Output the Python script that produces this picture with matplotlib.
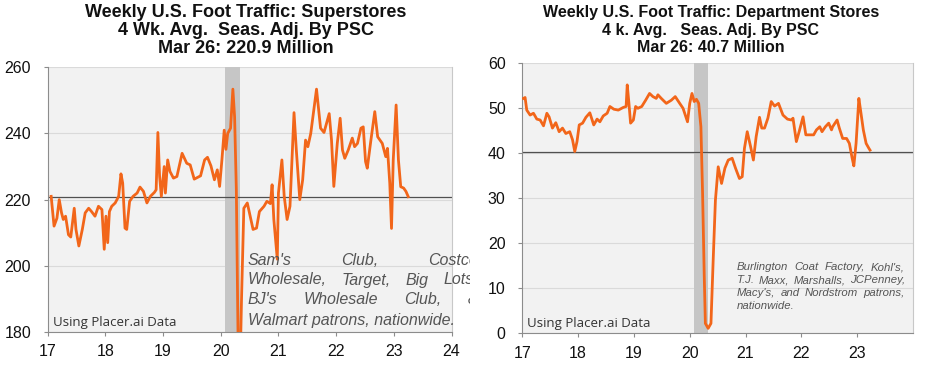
import matplotlib
matplotlib.use("Agg")
import matplotlib.pyplot as plt
from matplotlib.transforms import Bbox, TransformedBbox

# ---------------- data ----------------
super_x = [17.06, 17.11, 17.16, 17.20, 17.24, 17.27, 17.31, 17.36, 17.40, 17.46, 17.49, 17.54,
           17.60, 17.65, 17.71, 17.76, 17.82, 17.88, 17.94, 17.98, 18.01, 18.04, 18.07, 18.11,
           18.17, 18.23, 18.27, 18.30, 18.34, 18.37, 18.42, 18.48, 18.55, 18.60, 18.66, 18.72,
           18.78, 18.85, 18.88, 18.91, 18.94, 18.97, 19.02, 19.04, 19.08, 19.12, 19.18, 19.24,
           19.33, 19.41, 19.47, 19.54, 19.65, 19.72, 19.77, 19.83, 19.89, 19.94, 19.98, 20.02,
           20.06, 20.09, 20.12, 20.17, 20.21, 20.24, 20.27, 20.30, 20.33, 20.36, 20.40, 20.46,
           20.51, 20.56, 20.62, 20.67, 20.75, 20.80, 20.86, 20.89, 20.92, 20.98, 21.00, 21.06,
           21.10, 21.15, 21.20, 21.27, 21.31, 21.37, 21.42, 21.47, 21.51, 21.56, 21.66, 21.73,
           21.79, 21.88, 21.92, 21.96, 22.02, 22.07, 22.11, 22.15, 22.21, 22.28, 22.32, 22.37,
           22.43, 22.47, 22.51, 22.54, 22.60, 22.67, 22.72, 22.80, 22.86, 22.89, 22.93, 22.96,
           22.99, 23.04, 23.08, 23.12, 23.17, 23.21, 23.25]
super_y = [221.0, 212.0, 214.4, 220.0, 216.0, 214.0, 215.0, 209.4, 208.7, 217.4, 211.0, 206.0,
           211.0, 216.0, 217.4, 216.4, 215.0, 218.0, 217.0, 205.0, 215.0, 207.0, 216.4, 218.0,
           219.0, 221.0, 227.8, 225.0, 211.4, 211.0, 219.5, 221.0, 222.0, 223.8, 222.5, 219.0,
           221.0, 222.2, 223.0, 240.3, 227.0, 221.0, 230.0, 222.0, 232.0, 228.5, 226.5, 227.0,
           234.0, 231.0, 230.5, 226.2, 227.2, 232.0, 232.8, 230.2, 226.0, 229.0, 224.0, 232.0,
           241.0, 235.2, 240.0, 241.6, 253.4, 245.0, 223.0, 178.0, 165.0, 190.0, 217.4, 219.0,
           215.0, 211.0, 211.4, 216.4, 218.0, 219.5, 218.8, 224.5, 214.0, 202.0, 222.0, 232.0,
           221.0, 214.0, 218.0, 246.3, 235.0, 220.0, 226.0, 238.0, 236.0, 240.0, 253.4, 241.6,
           240.3, 246.0, 238.0, 224.0, 237.0, 244.6, 235.0, 232.5, 235.0, 238.6, 236.0, 237.0,
           241.6, 242.0, 231.5, 229.5, 237.6, 246.6, 239.0, 237.0, 233.0, 235.5, 225.0, 211.3,
           232.0, 248.6, 232.0, 223.9, 223.5, 222.5, 220.9]

dept_x = [17.02, 17.05, 17.08, 17.14, 17.20, 17.26, 17.32, 17.38, 17.44, 17.48, 17.54, 17.60,
          17.66, 17.72, 17.78, 17.85, 17.90, 17.94, 17.98, 18.02, 18.08, 18.14, 18.21, 18.28,
          18.34, 18.39, 18.45, 18.52, 18.57, 18.64, 18.72, 18.81, 18.86, 18.88, 18.91, 18.94,
          18.99, 19.03, 19.07, 19.14, 19.21, 19.28, 19.34, 19.40, 19.43, 19.49, 19.58, 19.67,
          19.74, 19.82, 19.88, 19.96, 20.00, 20.04, 20.08, 20.12, 20.16, 20.20, 20.23, 20.26,
          20.28, 20.33, 20.38, 20.42, 20.46, 20.51, 20.57, 20.63, 20.69, 20.76, 20.82, 20.89,
          20.94, 20.98, 21.03, 21.09, 21.14, 21.19, 21.25, 21.29, 21.34, 21.40, 21.46, 21.52,
          21.59, 21.67, 21.75, 21.82, 21.85, 21.91, 21.96, 22.03, 22.08, 22.13, 22.22, 22.27,
          22.33, 22.37, 22.43, 22.49, 22.54, 22.56, 22.64, 22.68, 22.74, 22.81, 22.86, 22.91,
          22.94, 22.98, 23.03, 23.06, 23.11, 23.16, 23.21, 23.23]
dept_y = [52.2, 52.4, 49.6, 48.5, 48.9, 47.6, 47.4, 46.1, 48.9, 48.1, 45.6, 46.8,
          44.8, 45.6, 44.4, 44.8, 43.0, 40.4, 42.6, 46.3, 46.7, 48.0, 49.0, 46.3,
          47.6, 47.0, 48.3, 48.9, 50.4, 49.8, 49.6, 50.2, 50.4, 55.2, 51.2, 46.7,
          47.4, 50.4, 50.0, 50.4, 51.8, 53.3, 52.6, 52.2, 53.0, 52.2, 51.1, 51.8,
          52.6, 51.1, 50.0, 47.0, 51.1, 53.3, 51.5, 52.0, 51.1, 45.9, 31.1, 12.6,
          2.2, 1.1, 2.2, 16.3, 29.6, 37.0, 33.3, 36.7, 38.5, 38.9, 36.7, 34.4,
          34.8, 41.1, 44.8, 41.5, 38.5, 43.7, 48.0, 45.6, 45.6, 47.8, 51.5, 50.5,
          51.1, 48.5, 47.6, 47.4, 47.8, 42.6, 44.8, 48.1, 44.1, 44.1, 44.1, 45.2,
          45.9, 44.8, 45.9, 46.7, 45.2, 45.9, 47.4, 45.6, 43.3, 43.3, 42.2, 38.9,
          37.2, 42.2, 52.2, 49.6, 45.2, 42.2, 41.1, 40.7]

super_ref = 220.9
dept_ref = 40.4
recession = (20.08, 20.33)

titles = [
    "Weekly U.S. Foot Traffic: Superstores\n4 Wk. Avg.  Seas. Adj. By PSC\nMar 26: 220.9 Million",
    "Weekly U.S. Foot Traffic: Department Stores\n4 k. Avg.   Seas. Adj. By PSC\nMar 26: 40.7 Million",
]
source_text = "Using Placer.ai Data"
note_super = [["Sam's", "Club,", "Costco"],
              ["Wholesale,", "Target,", "Big", "Lots,"],
              ["BJ's", "Wholesale", "Club,", "&"],
              ["Walmart patrons, nationwide."]]
note_dept = [["Burlington", "Coat", "Factory,", "Kohl's,"],
             ["T.J.", "Maxx,", "Marshalls,", "JCPenney,"],
             ["Macy's,", "and", "Nordstrom", "patrons,"],
             ["nationwide."]]

# ---------------- figure ----------------
W, H = 929, 373
fig = plt.figure(figsize=(W / 100, H / 100), dpi=100)
plt.rcParams['font.family'] = ['Liberation Sans', 'DejaVu Sans']

ORANGE = '#F2661A'
BG = '#F2F2F2'


def px_ax(l, r, t, b):
    return fig.add_axes([l / W, 1 - b / H, (r - l) / W, (b - t) / H])


ax1 = px_ax(47.7, 451.5, 67.3, 332.0)
ax2 = px_ax(522.3, 913.0, 63.3, 333.3)


def style(ax, ylim, yticks, xticks, xlim):
    ax.set_facecolor(BG)
    ax.set_xlim(*xlim)
    ax.set_ylim(*ylim)
    ax.set_yticks(yticks)
    ax.set_xticks(xticks)
    ax.set_xticklabels([str(t) for t in xticks])
    for t in yticks:
        ax.axhline(t, color='#DADADA', lw=0.8, zorder=0.5)
    ax.spines['top'].set_visible(False)
    ax.spines['right'].set_color('#C8C8C8')
    ax.spines['left'].set_color('#8C8C8C')
    ax.spines['bottom'].set_color('#8C8C8C')
    for s in ax.spines.values():
        s.set_linewidth(0.8)
    ax.tick_params(axis='both', direction='out', length=3, width=0.8, color='#8C8C8C',
                   labelsize=11.5, labelcolor='#111111')
    ax.tick_params(axis='y', pad=9)
    ax.tick_params(axis='x', pad=6)
    ax.axvspan(*recession, color='#C6C6C6', lw=0, zorder=1)


style(ax1, (180, 260), [180, 200, 220, 240, 260], list(range(17, 25)), (17, 24))
style(ax2, (0, 60), [0, 10, 20, 30, 40, 50, 60], list(range(17, 24)), (17, 24))

ax1.axhline(super_ref, color='#505050', lw=0.9, zorder=2)
ax2.axhline(dept_ref, color='#505050', lw=0.9, zorder=2)
ax1.plot(super_x, super_y, color=ORANGE, lw=2.0, zorder=3, solid_joinstyle='round')
ax2.plot(dept_x, dept_y, color=ORANGE, lw=2.0, zorder=3, solid_joinstyle='round')

# titles
fig.text(246 / W, 1 - 30.5 / H, titles[0], ha='center', va='center', fontsize=13,
         fontweight='bold', linespacing=1.1, color='#111111')
fig.text(711 / W, 1 - 30 / H, titles[1], ha='center', va='center', fontsize=11.5,
         fontweight='bold', linespacing=1.2, color='#111111')

# source text
for x0, y0 in [(52.7, 322.7), (527.3, 324.0)]:
    fig.text(x0 / W, 1 - y0 / H, source_text, ha='left', va='center', fontsize=9.5,
             family=['Open Sans', 'DejaVu Sans'], color='#333333')

renderer = fig.canvas.get_renderer()
clip_left = TransformedBbox(Bbox.from_extents(0, 0, 470 / W, 1), fig.transFigure)


def justified(lines, x0, x1, ys, fs, clip=None):
    for words, yy in zip(lines, ys):
        texts = []
        for w in words:
            t = fig.text(x0 / W, 1 - yy / H, w, ha='left', va='center', fontsize=fs,
                         style='italic', color='#555555')
            if clip is not None:
                t.set_clip_box(clip)
                t.set_clip_on(True)
            texts.append(t)
        if len(texts) == 1:
            continue
        widths = [t.get_window_extent(renderer).width for t in texts]
        gap = (x1 - x0 - sum(widths)) / (len(texts) - 1)
        x = x0
        for t, wdt in zip(texts, widths):
            t.set_x(x / W)
            x += wdt + gap


justified(note_super, 248.0, 478.0, [260.7, 280.0, 300.0, 320.0], 11.5, clip=clip_left)
justified(note_dept, 736.7, 905.0, [267.3, 280.3, 293.3, 306.3], 8.2)

fig.savefig('out.png', dpi=100, facecolor='white')
